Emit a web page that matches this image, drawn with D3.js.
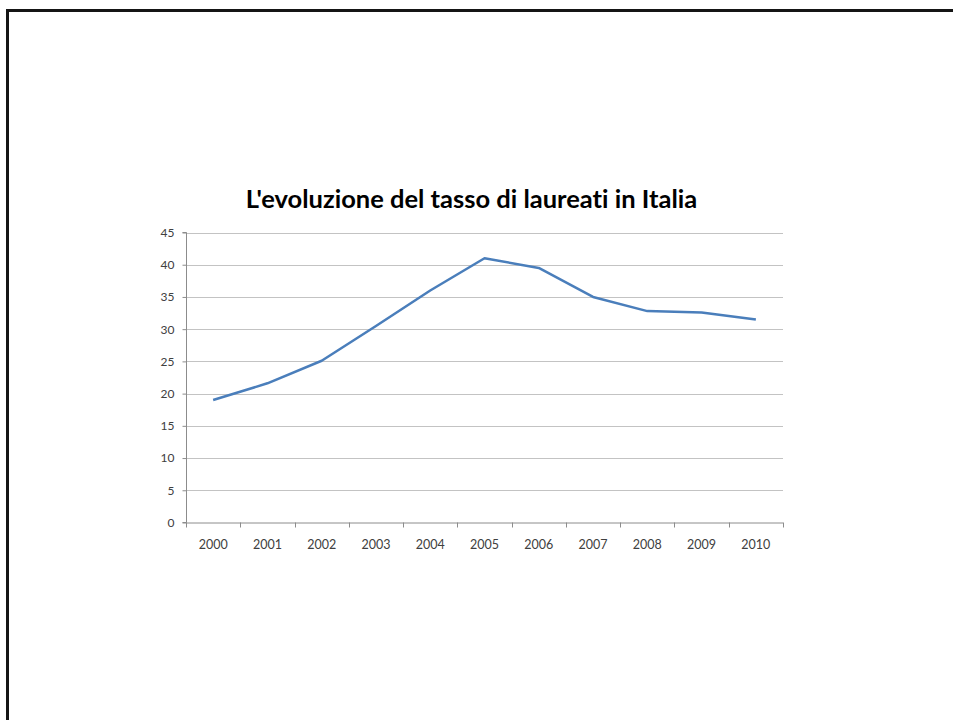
<!DOCTYPE html>
<html><head><meta charset="utf-8">
<script src="https://cdn.jsdelivr.net/npm/d3@7"></script>
<style>body{margin:0;background:#fff;overflow:hidden}svg{display:block}text{font-variant-ligatures:none}</style>
</head><body>
<svg id="c" width="953" height="720"></svg>
<script>
const years = ["2000","2001","2002","2003","2004","2005","2006","2007","2008","2009","2010"];
const values = [19.0, 21.6, 25.1, 30.5, 36.0, 41.0, 39.5, 35.0, 32.8, 32.6, 31.5];
const yTicks = [0,5,10,15,20,25,30,35,40,45];
const title = "L'evoluzione del tasso di laureati in Italia";

const svg = d3.select("#c");
// frame
svg.append("rect").attr("x",6).attr("y",9).attr("width",3).attr("height",711).attr("fill","#151515");
svg.append("rect").attr("x",6).attr("y",9).attr("width",947).attr("height",3).attr("fill","#151515");

const L=186, R=783, T=232.5, B=522.5;
const x = d3.scaleBand().domain(years).range([L,R]);
const y = d3.scaleLinear().domain([0,45]).range([B,T]);
const font = "Lato, 'Open Sans', sans-serif";

// gridlines
svg.append("g").selectAll("line").data(yTicks.filter(d=>d>0)).join("line")
  .attr("x1",L).attr("x2",R).attr("y1",d=>Math.round(y(d))+0.5).attr("y2",d=>Math.round(y(d))+0.5)
  .attr("stroke","#c3c3c3").attr("stroke-width",1);

// y axis
const ya = svg.append("g").attr("transform",`translate(${L+0.5},0)`)
  .call(d3.axisLeft(y).tickValues(yTicks).tickSize(4).tickPadding(8));
ya.select(".domain").attr("stroke","#8c8c8c").attr("d",`M-4,${B}H0V${T}H-4`);
ya.selectAll(".tick line").attr("stroke","#8c8c8c");
ya.selectAll("text").attr("font-family",font).attr("font-size",12).attr("fill","#404040");

// x axis
const xa = svg.append("g").attr("transform",`translate(0,${B+0.5})`)
  .call(d3.axisBottom(x).tickSize(0).tickPadding(17));
xa.select(".domain").attr("stroke","#8c8c8c").attr("d",`M${L},0H${R}`);
xa.selectAll("text").attr("font-family",font).attr("font-size",12.5).attr("fill","#404040");
svg.append("g").selectAll("line").data(years.concat(["end"])).join("line")
  .attr("x1",(d,i)=>Math.round(L+i*x.step())+0.5).attr("x2",(d,i)=>Math.round(L+i*x.step())+0.5)
  .attr("y1",B).attr("y2",B+5).attr("stroke","#8c8c8c");

// line
const line = d3.line().x((d,i)=>x(years[i])+x.bandwidth()/2).y(d=>y(d));
svg.append("path").datum(values).attr("d",line).attr("fill","none")
  .attr("stroke","#4a7ebb").attr("stroke-width",2.5).attr("stroke-linejoin","round");

// title
svg.append("text").attr("x",471.5).attr("y",208).attr("text-anchor","middle")
  .attr("font-family",font).attr("font-weight","bold").attr("font-size",25.5)
  .attr("fill","#000").text(title);
</script>
</body></html>
